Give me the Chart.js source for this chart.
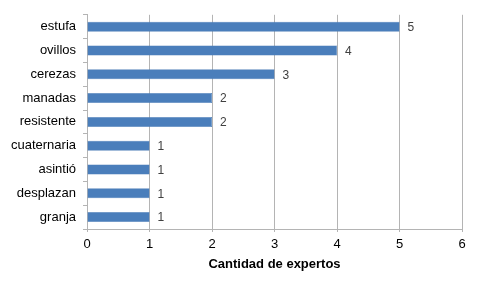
<!DOCTYPE html>
<html>
<head>
<meta charset="utf-8">
<script src="https://cdn.jsdelivr.net/npm/chart.js@4/dist/chart.umd.min.js"></script>
<style>
  html, body { margin: 0; padding: 0; background: #fff; }
  #wrap { width: 480px; height: 288px; }
</style>
</head>
<body>
<div id="wrap"><canvas id="chart" width="480" height="288"></canvas></div>
<script>
// Words and how many experts picked each one, top to bottom.
const words = ["estufa", "ovillos", "cerezas", "manadas", "resistente", "cuaternaria", "asintió", "desplazan", "granja"];
const expertCounts = [5, 4, 3, 2, 2, 1, 1, 1, 1];
const xTicks = [0, 1, 2, 3, 4, 5, 6];

const FONT = "'Liberation Sans', Arial, sans-serif";
const GRID = "#b4b4b4";

// Write the value just past the end of every bar.
const valueLabels = {
  id: "valueLabels",
  afterDatasetsDraw(chart) {
    const ctx = chart.ctx;
    const meta = chart.getDatasetMeta(0);
    ctx.save();
    ctx.font = "12px " + FONT;
    ctx.fillStyle = "#404040";
    ctx.textAlign = "left";
    ctx.textBaseline = "middle";
    meta.data.forEach((bar, i) => {
      ctx.fillText(String(expertCounts[i]), bar.x + 8, bar.y + 1);
    });
    ctx.restore();
  }
};

new Chart(document.getElementById("chart"), {
  type: "bar",
  data: {
    labels: words,
    datasets: [
      {
        data: expertCounts,
        backgroundColor: "#4a7ebb",
        borderColor: "#4275b2",
        borderWidth: 0.5,
        categoryPercentage: 1,
        barPercentage: 0.42
      }
    ]
  },
  options: {
    indexAxis: "y",
    responsive: false,
    animation: false,
    layout: {
      padding: { left: 0, right: 18, top: 14, bottom: 0 }
    },
    plugins: {
      legend: { display: false },
      tooltip: { enabled: false }
    },
    scales: {
      x: {
        min: 0,
        max: 6,
        afterBuildTicks: (scale) => {
          scale.ticks = xTicks.map((v) => ({ value: v }));
        },
        afterFit: (scale) => {
          scale.height = 59;
        },
        grid: {
          color: GRID,
          lineWidth: 1,
          tickLength: 3
        },
        border: { color: GRID },
        ticks: {
          padding: 5,
          color: "#000",
          font: { family: FONT, size: 13 }
        },
        title: {
          display: true,
          text: "Cantidad de expertos",
          color: "#000",
          font: { family: FONT, size: 13, weight: "bold" },
          padding: { top: 0, bottom: 16 }
        }
      },
      y: {
        afterFit: (scale) => {
          scale.width = 87;
        },
        grid: {
          drawOnChartArea: false,
          offset: true,
          color: GRID,
          tickLength: 4
        },
        border: { color: GRID },
        ticks: {
          padding: 7,
          color: "#000",
          font: { family: FONT, size: 13 }
        }
      }
    }
  },
  plugins: [valueLabels]
});
</script>
</body>
</html>
